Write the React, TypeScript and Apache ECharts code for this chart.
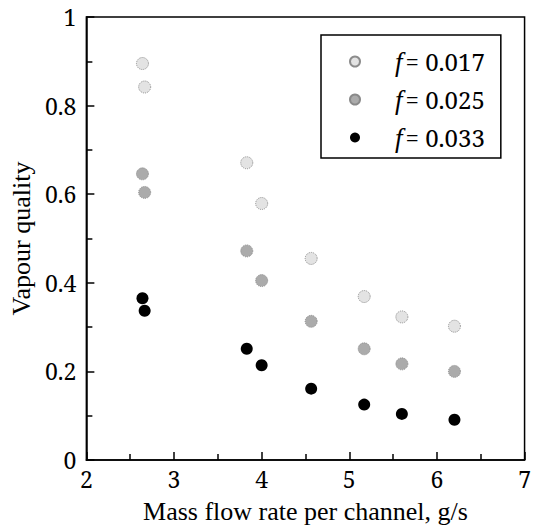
import React, { useEffect, useRef } from "react";
import * as echarts from "echarts";

const seriesNames = ["f = 0.017", "f = 0.025", "f = 0.033"];
const xValues = [2.64, 2.665, 3.83, 4.0, 4.565, 5.17, 5.6, 6.2];
const yF017 = [0.895, 0.842, 0.671, 0.579, 0.455, 0.369, 0.323, 0.302];
const yF025 = [0.646, 0.604, 0.472, 0.405, 0.313, 0.251, 0.217, 0.2];
const yF033 = [0.365, 0.337, 0.251, 0.214, 0.161, 0.125, 0.104, 0.091];

const FONT = "'Liberation Serif', 'Noto Serif', serif";
const NUMFONT = "'Noto Serif', 'Liberation Serif', serif";

export default function App() {
  const ref = useRef<HTMLDivElement>(null);
  useEffect(() => {
    if (!ref.current) return;
    const chart = echarts.init(ref.current, null, { renderer: "svg" });
    const styles = [
      { color: "#e3e3e3", borderColor: "#8c8c8c", borderType: "dotted", borderWidth: 1, opacity: 1 },
      { color: "#ababab", borderColor: "#8a8a8a", borderType: "dotted", borderWidth: 1, opacity: 1 },
      { color: "#000000", borderColor: "#000000", borderWidth: 0, opacity: 1 },
    ];
    const ys = [yF017, yF025, yF033];
    const nameStyle = { fontFamily: FONT, fontSize: 26, color: "#000" };
    const numStyle = { fontFamily: NUMFONT, fontSize: 23, color: "#000" };
    chart.setOption({
      animation: false,
      textStyle: { fontFamily: FONT, color: "#000" },
      grid: {
        left: 86,
        top: 17,
        right: 6,
        bottom: 72,
        show: true,
        borderColor: "#000",
        borderWidth: 1.5,
      },
      legend: {
        orient: "vertical",
        left: 321,
        top: 35,
        padding: [13, 16, 7, 28],
        itemWidth: 10,
        itemHeight: 10,
        itemGap: 11,
        borderColor: "#000",
        borderWidth: 1.5,
        data: seriesNames,
        formatter: (name: string) => "{i|f}{n|= " + name.split("= ")[1] + "}",
        textStyle: {
          fontFamily: NUMFONT,
          fontSize: 24,
          color: "#000",
          lineHeight: 24,
          padding: [0, 0, 0, 30],
          rich: {
            i: { fontFamily: FONT, fontSize: 27, lineHeight: 24, fontStyle: "italic", color: "#000", padding: [0, 3, 0, 0] },
            n: { fontFamily: NUMFONT, fontSize: 24, lineHeight: 24, color: "#000" },
          },
        },
      },
      xAxis: {
        type: "value",
        min: 2,
        max: 7,
        interval: 1,
        name: "Mass flow rate per channel, g/s",
        nameLocation: "middle",
        nameGap: 38,
        nameTextStyle: nameStyle,
        axisLine: { show: true, lineStyle: { color: "#000", width: 1.5 } },
        axisTick: { show: true, inside: true, length: 8, lineStyle: { color: "#000", width: 1.5 } },
        minorTick: { show: true, splitNumber: 2, length: 6, lineStyle: { color: "#000", width: 1.5 } },
        axisLabel: { ...numStyle, margin: 7 },
        splitLine: { show: false },
      },
      yAxis: {
        type: "value",
        min: 0,
        max: 1,
        interval: 0.2,
        name: "Vapour quality",
        nameLocation: "middle",
        nameGap: 51,
        nameTextStyle: nameStyle,
        axisLine: { show: true, lineStyle: { color: "#000", width: 1.5 } },
        axisTick: { show: true, inside: true, length: 8, lineStyle: { color: "#000", width: 1.5 } },
        minorTick: { show: true, splitNumber: 2, length: 6, lineStyle: { color: "#000", width: 1.5 } },
        axisLabel: { ...numStyle, margin: 10 },
        splitLine: { show: false },
      },
      series: seriesNames.map((name, i) => ({
        name,
        type: "scatter",
        symbol: "circle",
        symbolSize: 12,
        itemStyle: styles[i],
        emphasis: { disabled: true },
        data: xValues.map((x, j) => [x, ys[i][j]]),
      })),
    });
    return () => chart.dispose();
  }, []);
  return <div ref={ref} style={{ width: 534, height: 532, position: "absolute", left: 0, top: 0 }} />;
}
